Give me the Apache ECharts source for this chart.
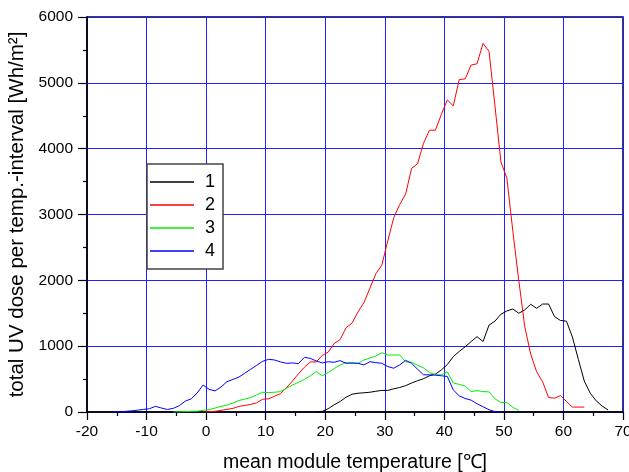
<!DOCTYPE html>
<html>
<head>
<meta charset="utf-8">
<script src="https://cdn.jsdelivr.net/npm/echarts@6/dist/echarts.min.js"></script>
<style>
html,body{margin:0;padding:0;background:#fff;}
#chart{width:629px;height:472px;}
</style>
</head>
<body>
<div id="chart"></div>
<script>
// Series 1 (black)
const t1 = [18.5,19.5,20.5,21.5,22.5,23.5,24.5,25.5,26.5,27.5,28.5,29.5,30.5,31.5,32.5,33.5,34.5,35.5,36.5,37.5,38.5,39.5,40.5,41.5,42.5,43.5,44.5,45.5,46.5,47.5,48.5,49.5,50.5,51.5,52.5,53.5,54.5,55.5,56.5,57.5,58.5,59.5,60.5,61.5,62.5,63.5,64.5,65.5,66.5,67.5];
const v1 = [0,10,50,110,160,225,270,285,292,300,315,328,328,352,372,400,440,475,505,550,575,640,720,840,920,990,1070,1145,1070,1320,1380,1485,1535,1565,1500,1550,1636,1575,1640,1640,1450,1390,1380,1140,800,470,285,170,90,30];
// Series 2 (red)
const t2 = [-0.5,0.5,1.5,2.5,3.5,4.5,5.5,6.5,7.5,8.5,9.5,10.5,11.5,12.5,13.5,14.5,15.5,16.5,17.5,18.5,19.5,20.5,21.5,22.5,23.5,24.5,25.5,26.5,27.5,28.5,29.5,30.5,31.5,32.5,33.5,34.5,35.5,36.5,37.5,38.5,39.5,40.5,41.5,42.5,43.5,44.5,45.5,46.5,47.5,48.5,49.5,50.5,51.5,52.5,53.5,54.5,55.5,56.5,57.5,58.5,59.5,60.5,61.5,62.5,63.5];
const v2 = [0,5,10,25,40,55,85,100,115,140,195,200,240,280,370,470,580,680,760,760,860,910,1040,1100,1280,1350,1520,1660,1880,2100,2230,2600,2950,3150,3310,3700,3770,4080,4280,4280,4520,4740,4650,5050,5060,5270,5290,5600,5480,4650,3800,3550,2750,2000,1300,880,610,460,220,210,250,160,75,75,75];
// Series 3 (green)
const t3 = [-5.5,-4.5,-3.5,-2.5,-1.5,-0.5,0.5,1.5,2.5,3.5,4.5,5.5,6.5,7.5,8.5,9.5,10.5,11.5,12.5,13.5,14.5,15.5,16.5,17.5,18.5,19.5,20.5,21.5,22.5,23.5,24.5,25.5,26.5,27.5,28.5,29.5,30.5,31.5,32.5,33.5,34.5,35.5,36.5,37.5,38.5,39.5,40.5,41.5,42.5,43.5,44.5,45.5,46.5,47.5,48.5,49.5,50.5,51.5,52.5];
const v3 = [0,3,5,10,12,25,35,60,85,105,135,175,195,220,260,300,295,300,310,360,410,450,495,550,615,550,600,660,715,750,740,740,790,820,850,900,866,866,866,764,755,710,670,600,565,565,610,440,420,395,310,325,310,305,200,145,145,70,25];
// Series 4 (blue)
const t4 = [-15.5,-14.5,-13.5,-12.5,-11.5,-10.5,-9.5,-8.5,-7.5,-6.5,-5.5,-4.5,-3.5,-2.5,-1.5,-0.5,0.5,1.5,2.5,3.5,4.5,5.5,6.5,7.5,8.5,9.5,10.5,11.5,12.5,13.5,14.5,15.5,16.5,17.5,18.5,19.5,20.5,21.5,22.5,23.5,24.5,25.5,26.5,27.5,28.5,29.5,30.5,31.5,32.5,33.5,34.5,35.5,36.5,37.5,38.5,39.5,40.5,41.5,42.5,43.5,44.5,45.5,46.5,47.5,48.5,49.5];
const v4 = [0,5,10,18,28,40,50,86,60,38,56,95,165,200,290,410,345,320,380,460,495,530,590,650,710,770,800,790,760,740,745,735,830,815,775,745,764,755,780,740,745,740,715,764,750,740,690,665,714,785,740,650,565,565,560,550,540,335,245,205,180,125,80,35,5,0];

const names = ['1','2','3','4'];
const colors = ['#000000','#ff0000','#00ee00','#0000ff'];
const temps = [t1,t2,t3,t4];
const vals = [v1,v2,v3,v4];

const xTitle = 'mean module temperature [℃]';
const yTitle = 'total UV dose per temp.-interval [Wh/m²]';

const chart = echarts.init(document.getElementById('chart'), null, {renderer:'canvas'});
const font = 'Liberation Sans, Arial, Helvetica, sans-serif';

const series = names.map((n,i)=>({
  name:n, type:'line', symbol:'none', showSymbol:false,
  data: temps[i].map((t,j)=>[t, vals[i][j]]),
  lineStyle:{color:colors[i], width:1},
  itemStyle:{color:colors[i]},
  z: 3,
  animation:false
}));

chart.setOption({
  animation:false,
  backgroundColor:'#ffffff',
  textStyle:{fontFamily:font},
  grid:{left:87, right:6, top:17, bottom:60, show:true, borderColor:'#000', borderWidth:1.5, backgroundColor:'transparent', containLabel:false, outerBoundsMode:'none'},
  legend:{
    orient:'vertical', left:147, top:164,
    data:names.map(n=>({name:n, icon:'rect'})),
    itemWidth:44, itemHeight:1.5, itemGap:5,
    itemStyle:{borderWidth:0},
    textStyle:{fontSize:18, color:'#000', fontFamily:font, padding:[0,0,0,6], lineHeight:18},
    borderColor:'#444', borderWidth:1.5, backgroundColor:'#fff',
    padding:[9,8,9,3]
  },
  xAxis:{
    type:'value', min:-20, max:70, interval:10,
    name:xTitle, nameLocation:'middle', nameGap:41,
    nameTextStyle:{fontSize:19.5, color:'#000', fontFamily:font},
    axisLine:{show:true, onZero:false, lineStyle:{color:'#000', width:1.5}},
    axisTick:{show:true, inside:false, length:8, lineStyle:{color:'#000', width:1.2}},
    minorTick:{show:true, splitNumber:2, length:4, lineStyle:{color:'#000', width:1.2}},
    axisLabel:{fontSize:15.5, color:'#000', margin:12, fontFamily:font},
    splitLine:{show:true, lineStyle:{color:'#2020ff', width:1}}
  },
  yAxis:{
    type:'value', min:0, max:6000, interval:1000,
    name:yTitle, nameLocation:'middle', nameGap:58,
    nameTextStyle:{fontSize:20.5, color:'#000', fontFamily:font},
    axisLine:{show:true, onZero:false, lineStyle:{color:'#000', width:1.5}},
    axisTick:{show:true, inside:false, length:9, lineStyle:{color:'#000', width:1.2}},
    minorTick:{show:true, splitNumber:2, length:4, lineStyle:{color:'#000', width:1.2}},
    axisLabel:{fontSize:15.5, color:'#000', margin:14, fontFamily:font, formatter:(v)=>String(v)},
    splitLine:{show:true, lineStyle:{color:'#2020ff', width:1}}
  },
  series:series
});
</script>
</body>
</html>
